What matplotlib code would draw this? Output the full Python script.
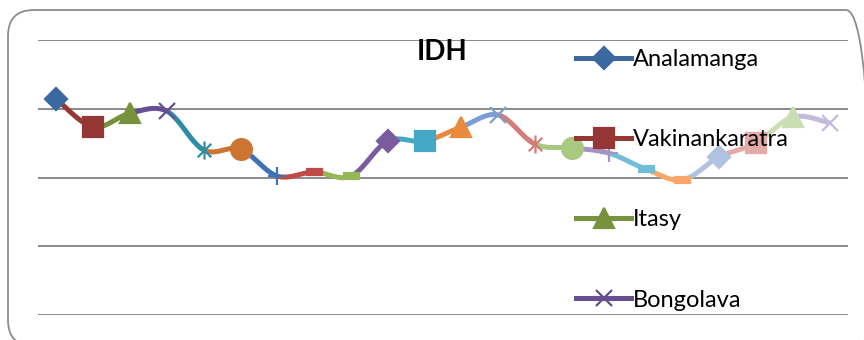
import numpy as np
import matplotlib
matplotlib.use("Agg")
import matplotlib.pyplot as plt
from matplotlib.lines import Line2D
from matplotlib.patches import FancyBboxPatch
from matplotlib.path import Path

# IDH par région (22 régions)
regions = ["Analamanga", "Vakinankaratra", "Itasy", "Bongolava",
           "Haute Matsiatra", "Amoron'i Mania", "Vatovavy Fitovinany", "Ihorombe",
           "Atsimo Atsinanana", "Atsinanana", "Analanjirofo", "Alaotra Mangoro",
           "Boeny", "Sofia", "Betsiboka", "Melaky",
           "Atsimo Andrefana", "Androy", "Anosy", "Menabe", "Diana", "Sava"]
idh = [0.628, 0.547, 0.587, 0.593, 0.480, 0.482, 0.404, 0.416, 0.404, 0.506, 0.506,
       0.547, 0.582, 0.497, 0.486, 0.471, 0.425, 0.393, 0.460, 0.500, 0.576, 0.559]
colors = ["#3C68A0", "#953735", "#76923C", "#654E91", "#2E8DA5", "#CC7531",
          "#3D72B8", "#BE4B48", "#95B856", "#7A5B9E", "#44A8C4", "#E98A3F",
          "#7C9ED2", "#D27D7A", "#A9C880", "#A694C4", "#72BED6", "#F9A66A",
          "#AFC2E0", "#E3AAA8", "#CBDDB3", "#C4BBDA"]

# marqueurs type Excel (losange, carré, triangle, x, étoile, rond, plus, tiret)
star = Path([(0, -1), (0, 1), (-0.75, -0.75), (0.75, 0.75), (-0.75, 0.75), (0.75, -0.75)],
            [Path.MOVETO, Path.LINETO, Path.MOVETO, Path.LINETO, Path.MOVETO, Path.LINETO])
dash = [(-1, -0.35), (1, -0.35), (1, 0.35), (-1, 0.35)]
mk_cycle = [("D", 11), ("s", 14), ("^", 15), ("x", 12), (star, 13), ("o", 15), ("+", 13), (dash, 11)]
seq = [0, 1, 2, 3, 4, 5, 6, 7, 7, 0, 1, 2, 3, 4, 5, 6, 7, 7, 0, 1, 2, 3]
markers = [mk_cycle[k] for k in seq]

fig = plt.figure(figsize=(8.64, 3.4), dpi=100)
W, H = 864, 340
ax = fig.add_axes([38 / W, (H - 315) / H, (848 - 38) / W, (315 - 40) / H])

# cadre arrondi du graphique
frame = FancyBboxPatch((8 / W, -6 / H), (872 - 8) / W, (330 + 6) / H,
                       boxstyle="round,pad=0,rounding_size=0.03",
                       transform=fig.transFigure, fc="none", ec="#8C8C8C", lw=1.3,
                       mutation_aspect=W / H, clip_on=False)
fig.patches.append(frame)

x = np.arange(len(idh))
y = np.array(idh)

# courbe lissée (Bezier), chaque segment prend la couleur du point d'arrivée
t = np.linspace(0, 1, 30)
for i in range(len(x) - 1):
    p0 = np.array([x[max(i - 1, 0)], y[max(i - 1, 0)]])
    p1 = np.array([x[i], y[i]])
    p2 = np.array([x[i + 1], y[i + 1]])
    p3 = np.array([x[min(i + 2, len(x) - 1)], y[min(i + 2, len(x) - 1)]])
    c1 = p1 + (p2 - p0) / 6
    c2 = p2 - (p3 - p1) / 6
    pts = ((1 - t) ** 3)[:, None] * p1 + (3 * (1 - t) ** 2 * t)[:, None] * c1 \
        + (3 * (1 - t) * t ** 2)[:, None] * c2 + (t ** 3)[:, None] * p2
    ax.plot(pts[:, 0], pts[:, 1], color=colors[i + 1], lw=3.6, solid_capstyle="butt", zorder=2)

for i in range(len(x)):
    m, ms = markers[i]
    ax.plot(x[i], y[i], marker=m, ms=ms, color=colors[i], mec=colors[i],
            mew=1.6, ls="none", zorder=3)

ax.set_xlim(-0.5, len(idh) - 0.5)
ax.set_ylim(0, 0.8)
ax.set_yticks([0, 0.2, 0.4, 0.6, 0.8])
ax.set_xticks([])
ax.tick_params(left=False, labelleft=False)
ax.grid(axis="y", color="#8A8A8A", lw=1.4)
ax.set_axisbelow(True)
for s in ax.spines.values():
    s.set_visible(False)

fig.text(442 / W, (H - 52) / H, "IDH", fontsize=20, fontweight="bold",
         family="Lato", ha="center", va="center")

handles = []
for i in range(4):
    m, ms = markers[i]
    handles.append(Line2D([0], [0], color=colors[i], lw=3.6, marker=m, ms=ms,
                          mec=colors[i], mew=1.6))
leg = fig.legend(handles, regions[:4], loc="upper left", bbox_to_anchor=(567 / W, (H - 40) / H),
                 frameon=False, prop={"family": "Lato", "size": 17},
                 handlelength=2.3, handletextpad=0.08, labelspacing=2.5, borderaxespad=0)
leg.set_zorder(5)

fig.savefig("out.png", dpi=100)
